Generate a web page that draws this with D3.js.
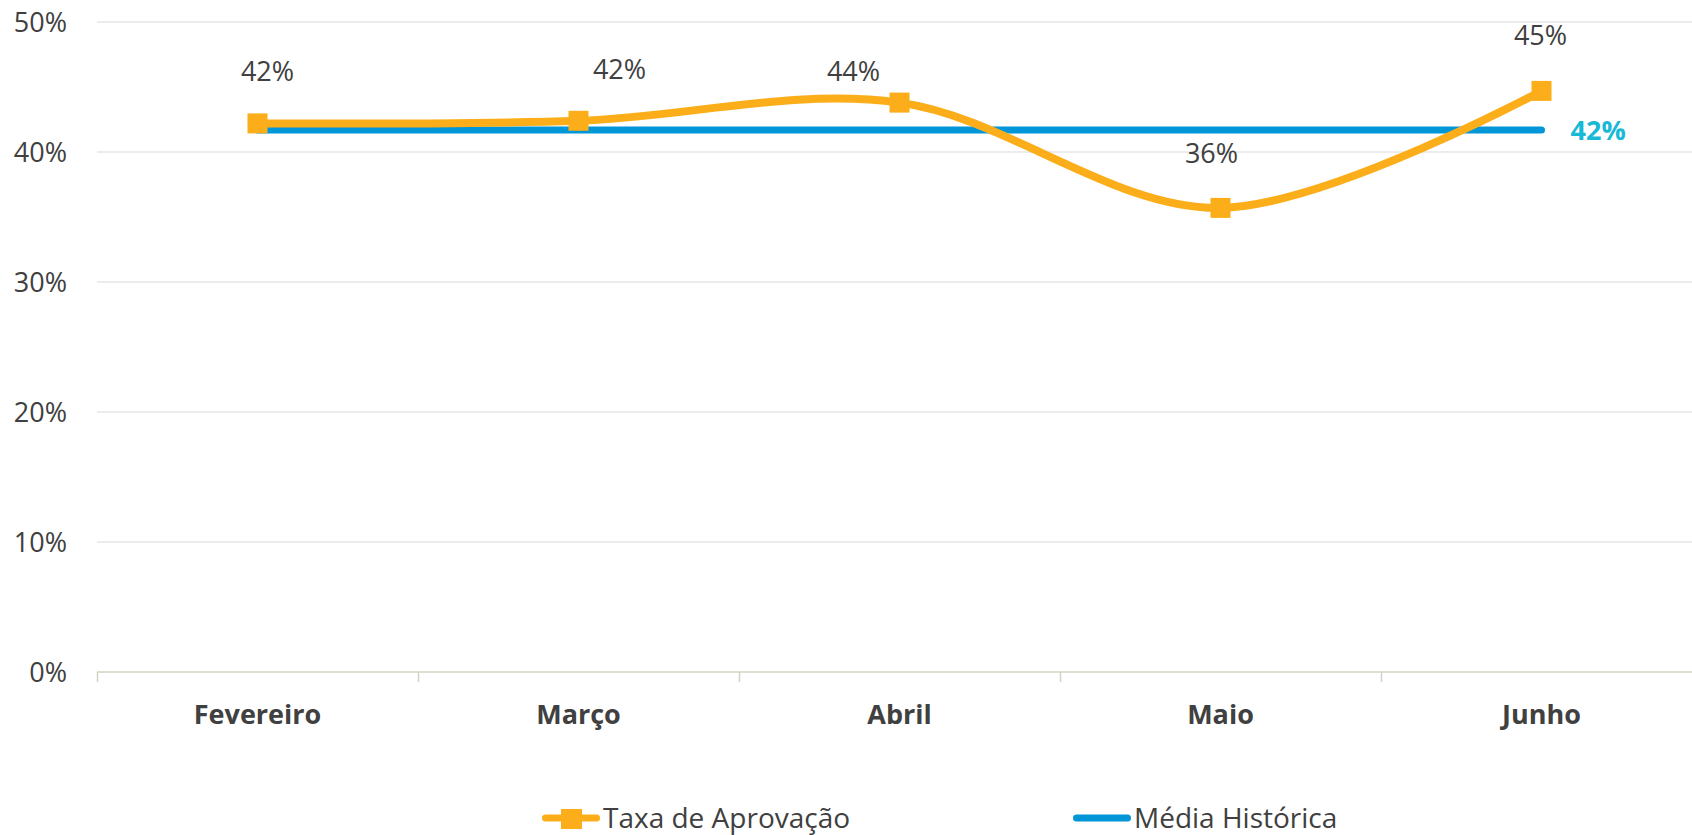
<!DOCTYPE html>
<html>
<head>
<meta charset="utf-8">
<script src="https://cdn.jsdelivr.net/npm/d3@7"></script>
<style>
  html, body { margin: 0; padding: 0; background: #fff; }
  svg { display: block; font-family: 'Open Sans', sans-serif; }
</style>
</head>
<body>
<div id="chart"></div>
<script>
// dados do gráfico
const months = ['Fevereiro', 'Março', 'Abril', 'Maio', 'Junho']
const taxaAprovacao = [0.422, 0.424, 0.438, 0.357, 0.447]
const mediaHistorica = [0.417, 0.417, 0.417, 0.417, 0.417]
const yTicks = [0, 0.1, 0.2, 0.3, 0.4, 0.5]
const seriesNames = ['Taxa de Aprovação', 'Média Histórica']

const width = 1692
const height = 835
const orange = '#fbae1a'
const blue = '#0096d8'
const textColor = '#404040'

const svg = d3.select('#chart')
  .append('svg')
  .attr('width', width)
  .attr('height', height)

const x = d3.scaleBand()
  .domain(months)
  .range([97, 1702])

const y = d3.scaleLinear()
  .domain([0, 0.5])
  .range([672, 22])

const cx = m => x(m) + x.bandwidth() / 2
const pct = d3.format('.0%')

// grelha horizontal
svg.append('g')
  .selectAll('line')
  .data(yTicks.filter(d => d > 0))
  .enter()
  .append('line')
  .attr('x1', 97)
  .attr('x2', width)
  .attr('y1', d => y(d))
  .attr('y2', d => y(d))
  .style('stroke', '#d9d9d9')
  .style('stroke-width', 1)

// eixo y (só rótulos)
const yAxis = svg.append('g')
  .attr('transform', 'translate(67,0)')
  .call(d3.axisLeft(y).tickValues(yTicks).tickFormat(pct).tickSize(0).tickPadding(0))
yAxis.select('.domain').remove()
yAxis.selectAll('text')
  .attr('dy', '0.36em')
  .style('font-family', "'Open Sans', sans-serif")
  .style('font-size', '27px')
  .style('fill', textColor)

// eixo x
const xAxis = svg.append('g')
  .attr('transform', `translate(0,${y(0)})`)
  .call(d3.axisBottom(x).tickSize(0))
xAxis.select('.domain')
  .attr('d', `M97,0H${width}`)
  .style('stroke', '#d3d3c4')
  .style('stroke-width', 1.5)
xAxis.selectAll('text')
  .attr('y', 52)
  .attr('dy', 0)
  .style('font-family', "'Open Sans', sans-serif")
  .style('font-size', '27px')
  .style('font-weight', 'bold')
  .style('fill', textColor)
svg.append('g')
  .selectAll('line')
  .data(months)
  .enter()
  .append('line')
  .attr('x1', d => x(d) + 0.5)
  .attr('x2', d => x(d) + 0.5)
  .attr('y1', y(0))
  .attr('y2', y(0) + 10)
  .style('stroke', '#d3d3c4')
  .style('stroke-width', 1.5)

// média histórica
svg.append('path')
  .datum(mediaHistorica)
  .attr('d', d3.line().x((d, i) => cx(months[i])).y(d => y(d)))
  .style('fill', 'none')
  .style('stroke', blue)
  .style('stroke-width', 7)
  .style('stroke-linecap', 'round')

// taxa de aprovação (linha suavizada)
svg.append('path')
  .datum(taxaAprovacao)
  .attr('d', d3.line().x((d, i) => cx(months[i])).y(d => y(d)).curve(d3.curveCatmullRom.alpha(0)))
  .style('fill', 'none')
  .style('stroke', orange)
  .style('stroke-width', 8)

svg.append('g')
  .selectAll('rect')
  .data(taxaAprovacao)
  .enter()
  .append('rect')
  .attr('x', (d, i) => cx(months[i]) - 10)
  .attr('y', d => y(d) - 10)
  .attr('width', 20)
  .attr('height', 20)
  .style('fill', orange)

// rótulos de dados (posições ajustadas como no original)
const labelNudge = [[10, -52], [41, -52], [-46, -31], [-9, -55], [-1, -56]]
svg.append('g')
  .selectAll('text')
  .data(taxaAprovacao)
  .enter()
  .append('text')
  .attr('x', (d, i) => cx(months[i]) + labelNudge[i][0])
  .attr('y', (d, i) => y(d) + labelNudge[i][1])
  .attr('text-anchor', 'middle')
  .attr('dy', '0.36em')
  .style('font-size', '27px')
  .style('fill', textColor)
  .text(d => pct(d))

const last = mediaHistorica.length - 1
svg.append('text')
  .attr('x', cx(months[last]) + 29)
  .attr('y', y(mediaHistorica[last]))
  .attr('dy', '0.36em')
  .style('font-size', '27px')
  .style('font-weight', 'bold')
  .style('fill', '#17b9d6')
  .text(pct(mediaHistorica[last]))

// legenda
const legendX = [542, 1073]
const legend = svg.append('g')
  .selectAll('g')
  .data(seriesNames)
  .enter()
  .append('g')
  .attr('transform', (d, i) => `translate(${legendX[i]},818)`)
legend.append('line')
  .attr('x1', 3.5)
  .attr('x2', 54.5)
  .style('stroke', (d, i) => i === 0 ? orange : blue)
  .style('stroke-width', 7)
  .style('stroke-linecap', 'round')
legend.filter((d, i) => i === 0)
  .append('rect')
  .attr('x', 19)
  .attr('y', -9)
  .attr('width', 21)
  .attr('height', 20)
  .style('fill', orange)
legend.append('text')
  .attr('x', 61)
  .attr('dy', '0.36em')
  .style('font-size', '28px')
  .style('fill', textColor)
  .text(d => d)
</script>
</body>
</html>
